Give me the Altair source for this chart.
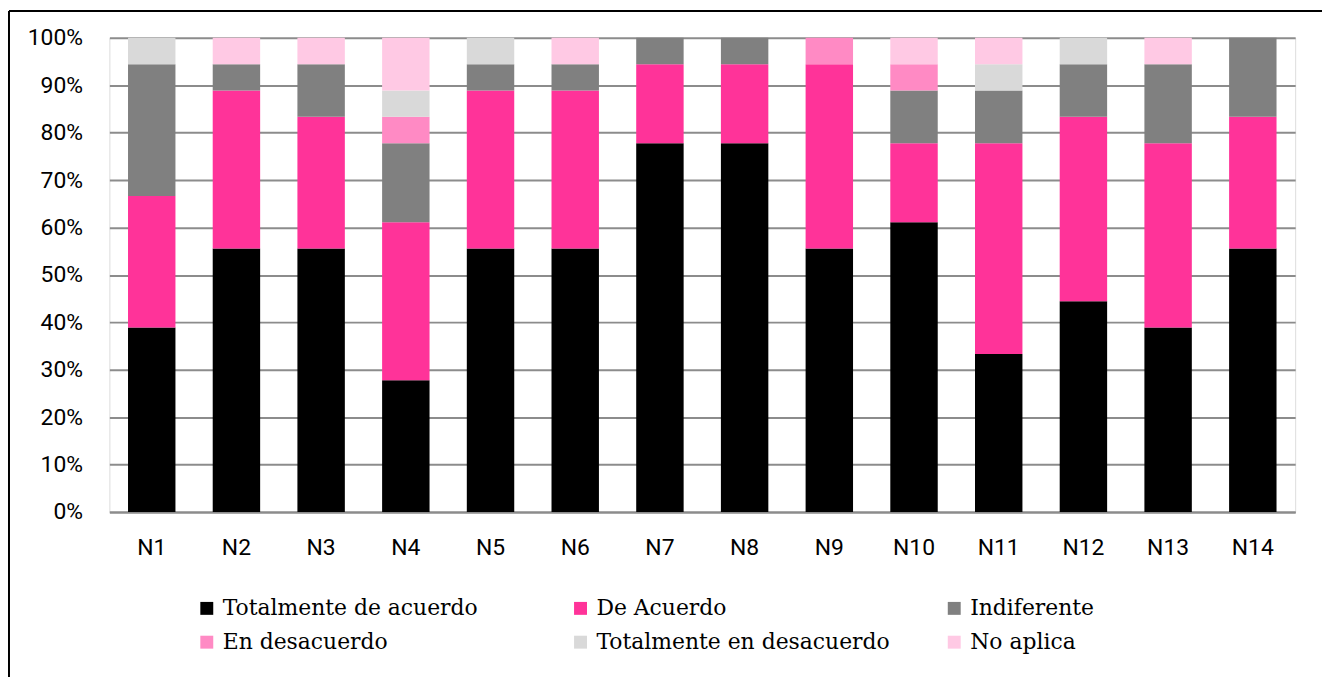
import altair as alt
import pandas as pd

categories = ["N1", "N2", "N3", "N4", "N5", "N6", "N7", "N8", "N9", "N10", "N11", "N12", "N13", "N14"]
series_names = ["Totalmente de acuerdo", "De Acuerdo", "Indiferente",
                "En desacuerdo", "Totalmente en desacuerdo", "No aplica"]
totalmente_de_acuerdo = [7, 10, 10, 5, 10, 10, 14, 14, 10, 11, 6, 8, 7, 10]
de_acuerdo = [5, 6, 5, 6, 6, 6, 3, 3, 7, 3, 8, 7, 7, 5]
indiferente = [5, 1, 2, 3, 1, 1, 1, 1, 0, 2, 2, 2, 3, 3]
en_desacuerdo = [0, 0, 0, 1, 0, 0, 0, 0, 1, 1, 0, 0, 0, 0]
totalmente_en_desacuerdo = [1, 0, 0, 1, 1, 0, 0, 0, 0, 0, 1, 1, 0, 0]
no_aplica = [0, 1, 1, 2, 0, 1, 0, 0, 0, 1, 1, 0, 1, 0]
colors = ["#000000", "#FF3399", "#808080", "#FF8AC4", "#D9D9D9", "#FFC9E4"]

series_values = [totalmente_de_acuerdo, de_acuerdo, indiferente,
                 en_desacuerdo, totalmente_en_desacuerdo, no_aplica]
rows = []
for si, (name, vals) in enumerate(zip(series_names, series_values)):
    for cat, v in zip(categories, vals):
        rows.append({"cat": cat, "serie": name, "n": v, "orden": si})
df = pd.DataFrame(rows)

bars = alt.Chart(df).mark_bar().encode(
    x=alt.X("cat:N", sort=categories, title=None,
            scale=alt.Scale(paddingInner=0.44, paddingOuter=0.22),
            axis=alt.Axis(labelAngle=0, ticks=False, domainColor="#8C8C8C", domainWidth=2,
                          labelFont="Roboto", labelFontSize=23, labelColor="#000000",
                          labelPadding=25, grid=False)),
    y=alt.Y("n:Q", stack="normalize", title=None,
            scale=alt.Scale(domain=[0, 1]),
            axis=alt.Axis(format=".0%", values=[i / 10 for i in range(11)],
                          ticks=False, domain=False, gridColor="#8C8C8C", gridWidth=2,
                          labelFont="Roboto", labelFontSize=23, labelColor="#000000",
                          labelPadding=27)),
    color=alt.Color("serie:N", sort=series_names,
                    scale=alt.Scale(domain=series_names, range=colors),
                    legend=alt.Legend(title=None, orient="none", legendX=87, legendY=563,
                                      columns=3, direction="horizontal",
                                      symbolType="square", symbolSize=169,
                                      symbolStrokeWidth=0,
                                      labelFont="DejaVu Serif", labelFontSize=22,
                                      labelColor="#000000", labelOffset=5,
                                      columnPadding=53, rowPadding=12,
                                      gridAlign="all", labelLimit=400)),
    order=alt.Order("orden:Q", sort="ascending"),
)

frame_data = alt.Data(values=[{"k": 1}])
frame_left = alt.Chart(frame_data).mark_rule(color="#000000", strokeWidth=2).encode(
    x=alt.value(-101), y=alt.value(-27), y2=alt.value(660))
frame_top = alt.Chart(frame_data).mark_rule(color="#000000", strokeWidth=2).encode(
    x=alt.value(-101), x2=alt.value(1240), y=alt.value(-27))

chart = alt.layer(bars, frame_left, frame_top).properties(
    width=1193, height=477,
    autosize=alt.AutoSizeParams(type="none"),
    padding={"left": 102, "top": 28, "right": 27, "bottom": 164},
).configure_view(stroke=None).configure(background="#FFFFFF")

chart.save("out.html", embed_options={"renderer": "svg", "actions": False})
